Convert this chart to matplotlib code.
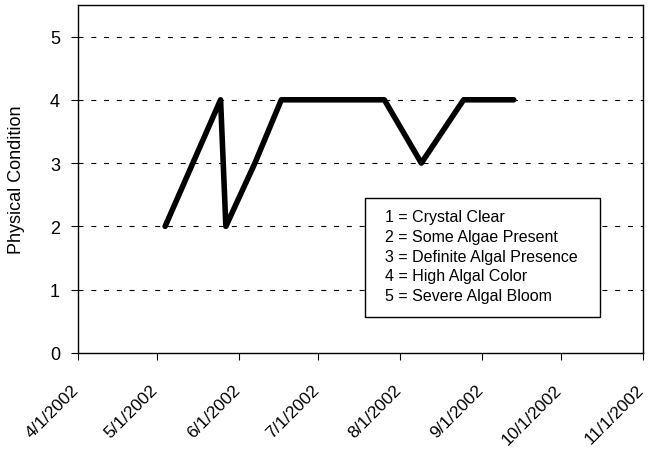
import matplotlib
matplotlib.use("Agg")
import matplotlib.pyplot as plt
from matplotlib.patches import Rectangle
import matplotlib.transforms as mtransforms
import pandas as pd

plt.rcParams['font.family'] = ['Liberation Sans', 'DejaVu Sans']

dates = ["2002-05-04", "2002-05-25", "2002-05-27", "2002-06-07", "2002-06-17",
         "2002-07-03", "2002-07-26", "2002-08-09", "2002-08-25", "2002-09-13"]
condition = [2, 4, 2, 3, 4, 4, 4, 3, 4, 4]
tick_dates = ["2002-04-01", "2002-05-01", "2002-06-01", "2002-07-01",
              "2002-08-01", "2002-09-01", "2002-10-01", "2002-11-01"]
tick_labels = ["4/1/2002", "5/1/2002", "6/1/2002", "7/1/2002",
               "8/1/2002", "9/1/2002", "10/1/2002", "11/1/2002"]
legend_lines = ["1 = Crystal Clear", "2 = Some Algae Present",
                "3 = Definite Algal Presence", "4 = High Algal Color",
                "5 = Severe Algal Bloom"]
y_label = "Physical Condition"

x = pd.to_datetime(dates)
xt = pd.to_datetime(tick_dates)

fig = plt.figure(figsize=(6.55, 4.52), dpi=100)
ax = fig.add_axes([0.119, 0.217, 0.863, 0.770])

for yv in [1, 2, 3, 4, 5]:
    ax.axhline(yv, color='black', lw=0.8, ls=(0, (4.5, 7)), zorder=1)

ax.plot(x, condition, color='black', lw=4.0, solid_joinstyle='round',
        solid_capstyle='round', zorder=3)

ax.set_xlim(xt[0], xt[-1])
ax.set_ylim(0, 5.5)
ax.set_yticks([0, 1, 2, 3, 4, 5])
ax.tick_params(axis='y', labelsize=13, length=5, width=0.8, direction='out', pad=8)
ax.set_xticks(xt)
ax.set_xticklabels(tick_labels, rotation=45, ha='right', rotation_mode='anchor', fontsize=12.5)
ax.tick_params(axis='x', length=5, width=0.8, direction='out', pad=16)
offset = mtransforms.ScaledTranslation(-7 / 100, 0, fig.dpi_scale_trans)
for lbl in ax.get_xticklabels():
    lbl.set_transform(lbl.get_transform() + offset)
for s in ax.spines.values():
    s.set_linewidth(1.0)
    s.set_color('black')

ax.set_ylabel(y_label, fontsize=13)
ax.yaxis.set_label_coords(-0.094, 0.5)

# legend-like note box
box_left, box_bottom, box_w, box_h = 0.508, 0.103, 0.416, 0.342
ax.add_patch(Rectangle((box_left, box_bottom), box_w, box_h, transform=ax.transAxes,
                       facecolor='white', edgecolor='black', lw=1.0, zorder=5))
top_c = 0.391
step = 0.0565
for i, line in enumerate(legend_lines):
    ax.text(0.543, top_c - i * step, line, transform=ax.transAxes,
            fontsize=11.5, va='center', ha='left', zorder=6)

fig.savefig("out.png", dpi=100)
